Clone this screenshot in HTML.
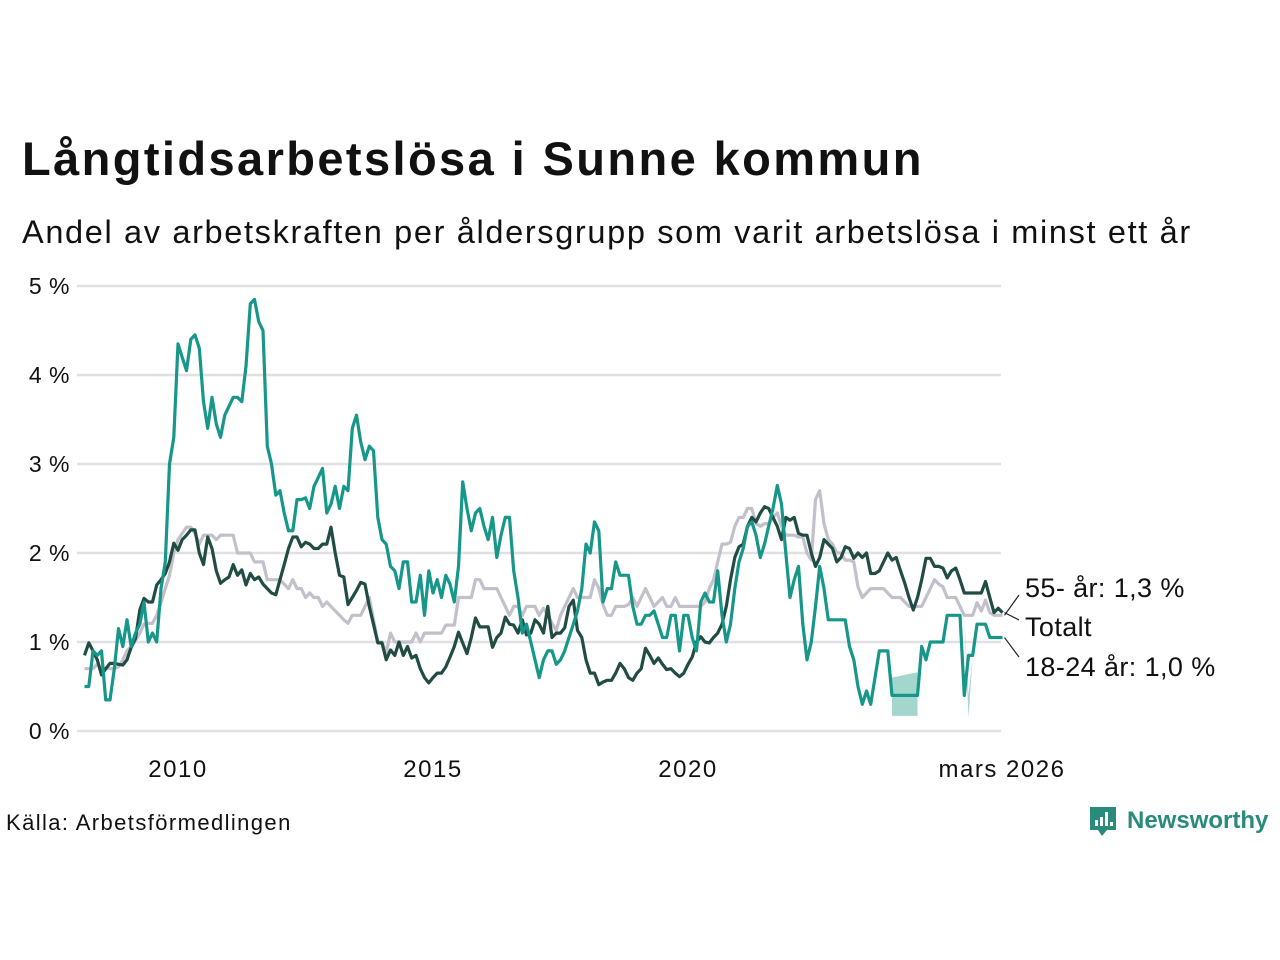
<!DOCTYPE html>
<html><head><meta charset="utf-8"><style>
html,body{margin:0;padding:0;background:#fff;width:1280px;height:960px;overflow:hidden;font-family:"Liberation Sans","DejaVu Sans",sans-serif;}
#title{position:absolute;left:22px;top:131px;font-size:47px;font-weight:bold;color:#111;margin:0;letter-spacing:2.4px}
#sub{position:absolute;left:22px;top:214px;font-size:32.5px;color:#111;margin:0;letter-spacing:1.65px}
#src{position:absolute;left:6px;top:810px;font-size:22px;color:#111;letter-spacing:1.4px}
#logo{position:absolute;left:1088px;top:804px;}
svg text{font-family:"Liberation Sans","DejaVu Sans",sans-serif}
</style></head><body>
<h1 id="title">Långtidsarbetslösa i Sunne kommun</h1>
<p id="sub">Andel av arbetskraften per åldersgrupp som varit arbetslösa i minst ett år</p>
<svg id="chart" width="1280" height="960" style="position:absolute;left:0;top:0"></svg>
<div id="src">Källa: Arbetsförmedlingen</div>
<svg id="logo" width="185" height="40" viewBox="0 0 185 40">
<path d="M2 3h26v23h-9l-5 6-4-6H2z" fill="#2a8a7c"/>
<rect x="7" y="16" width="3" height="6" fill="#fff"/><rect x="12" y="13" width="3" height="9" fill="#fff"/><rect x="17" y="8" width="3" height="14" fill="#fff"/><rect x="22" y="18" width="3" height="4" fill="#fff"/>
<text x="39" y="24" font-size="24" font-weight="bold" fill="#2a8a7c">Newsworthy</text>
</svg>
<script>
const startYear=2008, startMonth=3;
const youth=[0.5,0.5,0.9,0.85,0.9,0.35,0.35,0.7,1.15,0.95,
1.25,0.95,1.1,1.2,1.45,1.0,1.1,1.0,1.6,1.9,3.0,3.3,
4.35,4.2,4.05,4.4,4.45,4.3,3.7,3.4,3.75,3.45,3.3,3.55,
3.65,3.75,3.75,3.7,4.1,4.8,4.85,4.6,4.5,3.2,3.0,2.65,
2.7,2.45,2.25,2.25,2.6,2.6,2.62,2.5,2.75,2.85,2.95,2.45,
2.55,2.75,2.5,2.75,2.7,3.4,3.55,3.25,3.05,3.2,3.15,2.4,
2.15,2.1,1.85,1.8,1.6,1.9,1.9,1.45,1.45,1.75,1.3,1.8,
1.55,1.7,1.5,1.75,1.65,1.45,1.85,2.8,2.5,2.25,2.45,2.5,
2.3,2.15,2.4,1.95,2.2,2.4,2.4,1.8,1.5,1.1,1.2,1.0,
0.8,0.6,0.8,0.9,0.9,0.75,0.8,0.9,1.05,1.2,1.35,1.6,
2.1,2.0,2.35,2.25,1.45,1.6,1.6,1.9,1.75,1.75,1.75,1.4,
1.2,1.2,1.3,1.3,1.35,1.2,1.05,1.05,1.3,1.3,0.9,1.3,
1.3,1.05,0.9,1.45,1.55,1.45,1.45,1.8,1.3,1.0,1.2,1.6,
1.9,2.05,2.3,2.35,2.2,1.95,2.1,2.3,2.5,2.76,2.55,2.0,
1.5,1.7,1.85,1.2,0.8,1.0,1.4,1.85,1.6,1.25,1.25,1.25,
1.25,1.25,0.95,0.8,0.5,0.3,0.45,0.3,0.6,0.9,0.9,0.9,
0.4,0.4,0.4,0.4,0.4,0.4,0.4,0.95,0.8,1.0,1.0,1.0,
1.0,1.3,1.3,1.3,1.3,0.4,0.85,0.85,1.2,1.2,1.2,1.05,
1.05,1.05,1.05];
const total=[0.85,0.99,0.9,0.8,0.63,0.7,0.76,0.76,0.75,0.74,
0.8,0.94,1.04,1.36,1.49,1.45,1.45,1.64,1.7,1.77,1.9,2.11,
2.03,2.15,2.2,2.26,2.26,2.0,1.87,2.18,2.05,1.8,1.66,1.7,
1.73,1.87,1.75,1.81,1.64,1.77,1.7,1.73,1.65,1.6,1.55,1.53,
1.7,1.87,2.05,2.18,2.18,2.07,2.12,2.1,2.05,2.05,2.1,2.1,
2.29,2.0,1.75,1.73,1.42,1.5,1.58,1.67,1.65,1.4,1.2,0.99,
0.99,0.8,0.91,0.85,1.0,0.85,0.95,0.82,0.85,0.7,0.6,0.54,
0.6,0.65,0.65,0.72,0.83,0.95,1.11,0.99,0.87,1.05,1.27,1.17,
1.17,1.17,0.94,1.05,1.1,1.28,1.2,1.19,1.1,1.25,1.08,1.1,
1.25,1.2,1.1,1.4,1.05,1.1,1.1,1.16,1.4,1.47,1.13,1.05,
0.8,0.65,0.65,0.52,0.55,0.57,0.57,0.65,0.76,0.7,0.6,0.57,
0.65,0.7,0.93,0.85,0.76,0.82,0.75,0.69,0.7,0.65,0.61,0.65,
0.75,0.83,1.0,1.06,1.0,0.99,1.05,1.1,1.2,1.4,1.7,1.95,
2.07,2.1,2.3,2.4,2.35,2.45,2.52,2.5,2.4,2.3,2.15,2.4,
2.37,2.4,2.22,2.2,2.2,2.0,1.85,1.95,2.15,2.1,2.05,1.9,
1.95,2.07,2.05,1.94,2.0,1.95,2.0,1.77,1.77,1.8,1.9,2.0,
1.92,1.95,1.8,1.66,1.5,1.36,1.5,1.7,1.94,1.94,1.85,1.85,
1.83,1.72,1.8,1.83,1.7,1.55,1.55,1.55,1.55,1.55,1.68,1.5,
1.33,1.38,1.33];
const senior=[0.7,0.7,0.7,0.75,0.7,0.7,0.7,0.7,0.72,0.8,
0.9,0.95,1.02,1.1,1.2,1.21,1.21,1.3,1.44,1.6,1.75,2.0,
2.15,2.22,2.29,2.29,2.22,2.1,2.2,2.2,2.2,2.15,2.2,2.2,
2.2,2.2,2.0,2.0,2.0,2.0,1.9,1.9,1.9,1.7,1.7,1.7,
1.7,1.65,1.6,1.7,1.6,1.6,1.5,1.55,1.5,1.5,1.4,1.45,
1.4,1.35,1.3,1.25,1.21,1.3,1.3,1.3,1.4,1.5,1.25,1.0,
1.0,0.88,1.1,1.0,1.0,1.0,1.0,1.0,1.1,1.0,1.1,1.1,
1.1,1.1,1.1,1.19,1.19,1.19,1.5,1.5,1.5,1.5,1.7,1.7,
1.6,1.6,1.6,1.6,1.5,1.4,1.3,1.4,1.4,1.3,1.4,1.4,
1.4,1.3,1.38,1.3,1.21,1.13,1.3,1.4,1.5,1.6,1.5,1.5,
1.5,1.5,1.7,1.6,1.42,1.3,1.3,1.4,1.4,1.4,1.42,1.5,
1.4,1.5,1.6,1.5,1.4,1.45,1.5,1.4,1.4,1.5,1.4,1.4,
1.4,1.4,1.4,1.4,1.45,1.6,1.7,1.9,2.1,2.1,2.12,2.3,
2.4,2.4,2.5,2.5,2.33,2.3,2.33,2.33,2.4,2.45,2.3,2.2,
2.2,2.2,2.18,2.18,2.0,1.92,2.6,2.7,2.33,2.15,2.1,2.0,
2.0,1.92,1.92,1.9,1.62,1.5,1.55,1.6,1.6,1.6,1.6,1.55,
1.5,1.5,1.5,1.45,1.4,1.4,1.4,1.4,1.5,1.6,1.7,1.65,
1.62,1.5,1.5,1.5,1.4,1.3,1.3,1.3,1.44,1.35,1.47,1.33,
1.3,1.3,1.3];
const bandIdx=[190,191,192,193,194,195,196];
const bandLow=[0.17,0.17,0.17,0.17,0.17,0.17,0.17];
const bandHigh=[0.6,0.61,0.62,0.63,0.64,0.65,0.66];
const band2Idx=[207,208,209];
const band2Low=[1.3,0.15,0.85];
const band2High=[1.3,0.4,0.85];
const yTicks=[0,1,2,3,4,5];
const yTickLabels=["0 %","1 %","2 %","3 %","4 %","5 %"];
const xTickYears=[2010,2015,2020];
const xTickLabels=["2010","2015","2020"];
const endLabel="mars 2026";

const NS="http://www.w3.org/2000/svg";
const svg=document.getElementById('chart');
const X0=77,X1=1001,Y0=731,PPU=89;
const xOf=t=>178+(t-2010)*51;
const xIdx=i=>xOf(startYear+(startMonth-1+i)/12);
const yOf=v=>Y0-v*PPU;
function el(tag,attrs,parent){const e=document.createElementNS(NS,tag);for(const k in attrs)e.setAttribute(k,attrs[k]);(parent||svg).appendChild(e);return e;}

yTicks.forEach((v,i)=>{
  const g=el('line',{x1:X0,x2:X1,y1:yOf(v),y2:yOf(v),stroke:'#e1e0e5','stroke-width':2.5});
  
  
  const t=el('text',{x:70,y:yOf(v)+8,'text-anchor':'end','font-size':23,fill:'#111','letter-spacing':0.5});
  t.textContent=yTickLabels[i];
  
  
});
xTickYears.forEach((yr,i)=>{
  const t=el('text',{x:xOf(yr),y:777,'text-anchor':'middle','font-size':24,fill:'#111','letter-spacing':1.5});
  t.textContent=xTickLabels[i];
  
  
});
const te=el('text',{x:1002,y:777,'text-anchor':'middle','font-size':24,fill:'#111','letter-spacing':1.5});
te.textContent=endLabel;



function band(idx,lo,hi,name){
  let d='';idx.forEach((k,j)=>{d+=(j?'L':'M')+xIdx(k)+','+yOf(hi[j]);});
  for(let j=idx.length-1;j>=0;j--)d+='L'+xIdx(idx[j])+','+yOf(lo[j]);
  const p=el('path',{d:d+'Z',fill:'#1a9883','fill-opacity':0.4});
  
  
}
band(bandIdx,bandLow,bandHigh,'uncertainty-band');
band(band2Idx,band2Low,band2High,'uncertainty-band-2');

function line(arr,color,name){
  const d=arr.map((v,i)=>(i?'L':'M')+xIdx(i).toFixed(1)+','+yOf(v).toFixed(1)).join('');
  const p=el('path',{d:d,fill:'none',stroke:color,'stroke-width':3.2,'stroke-linejoin':'round'});
  
  
}
line(senior,'#c3bfcb','line-55-plus');
line(total,'#214c44','line-totalt');
line(youth,'#17968a','line-18-24');

const n=youth.length-1, ex=xIdx(n);
const labels=[["55- år: 1,3 %",senior[n],587,595],["Totalt",total[n],626,620],["18-24 år: 1,0 %",youth[n],666,657]];
labels.forEach((L,i)=>{
  const c=el('line',{x1:ex+2,y1:yOf(L[1]),x2:1019,y2:L[3],stroke:'#222','stroke-width':1.2});
  
  
  const t=el('text',{x:1025,y:L[2]+10,'font-size':27,fill:'#111','letter-spacing':0.4});
  t.textContent=L[0];
  
  
});
</script>
</body></html>
